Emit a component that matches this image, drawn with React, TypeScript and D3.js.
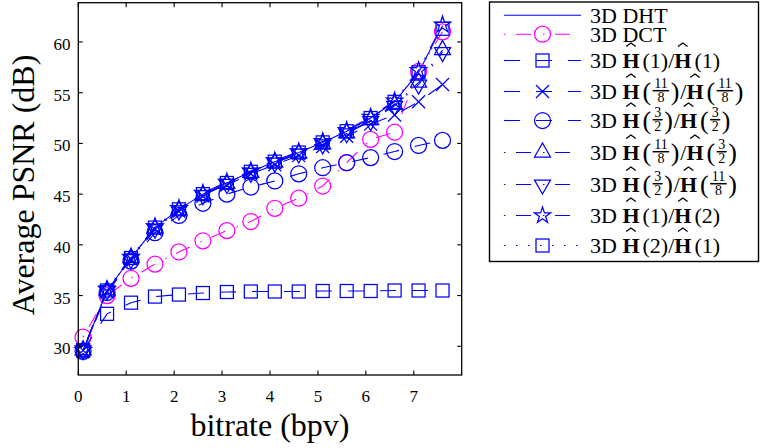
import React from "react";
import * as d3 from "d3";

// ---------- data ----------
const bitrate = [0.1, 0.6, 1.1, 1.6, 2.1, 2.6, 3.1, 3.6, 4.1, 4.6, 5.1, 5.6, 6.1, 6.6, 7.1, 7.6];
const psnrDHT = [29.6, 35.5, 38.7, 41.7, 43.5, 45.0, 46.1, 47.2, 48.2, 49.1, 50.1, 51.2, 52.5, 54.1, 57.0, 61.6];
const psnrDCT = [30.9, 35.0, 36.7, 38.1, 39.3, 40.4, 41.4, 42.3, 43.6, 44.6, 45.8, 48.1, 50.4, 51.1, 57.1, 61.0];
const psnrH1H1 = [29.6, 33.2, 34.3, 34.9, 35.1, 35.25, 35.35, 35.4, 35.4, 35.4, 35.45, 35.45, 35.45, 35.5, 35.5, 35.5];
const psnrH118H118 = [29.6, 35.4, 38.6, 41.5, 43.3, 44.8, 45.9, 47.0, 47.9, 48.8, 49.7, 50.7, 51.9, 52.8, 54.1, 55.8];
const psnrH32H32 = [29.5, 35.3, 38.4, 41.2, 42.9, 44.1, 45.0, 45.7, 46.3, 47.0, 47.6, 48.1, 48.6, 49.2, 49.8, 50.3];
const psnrH118H32 = [29.6, 35.5, 38.7, 41.6, 43.4, 44.9, 46.0, 47.1, 48.1, 49.0, 49.9, 51.0, 52.3, 53.8, 56.0, 59.2];
const psnrH32H118 = [29.6, 35.5, 38.6, 41.6, 43.4, 44.9, 46.0, 47.1, 48.1, 49.0, 49.9, 51.0, 52.2, 53.7, 55.8, 59.0];
const psnrH1H2 = [29.6, 35.6, 38.8, 41.8, 43.6, 45.1, 46.2, 47.3, 48.3, 49.2, 50.2, 51.3, 52.6, 54.2, 57.2, 61.7];
const psnrH2H1 = [29.6, 35.5, 38.7, 41.7, 43.5, 45.0, 46.1, 47.2, 48.2, 49.1, 50.1, 51.2, 52.5, 54.1, 57.0, 61.3];

const xTickValues = [0, 1, 2, 3, 4, 5, 6, 7];
const yTickValues = [30, 35, 40, 45, 50, 55, 60];
const xLabel = "bitrate (bpv)";
const yLabel = "Average PSNR (dB)";

// legend label tokens: t = text, H = bold hat H, f = fraction, p = big paren, s = space
type Tok = { k: string; s?: string; n?: string; d?: string; w?: number };
const T = (s: string): Tok => ({ k: "t", s });
const HH: Tok = { k: "H" };
const S: Tok = { k: "s", w: 3 };
const F = (n: string, d: string): Tok => ({ k: "f", n, d });
const P = (s: string): Tok => ({ k: "p", s });
const fracArg = (n: string, d: string): Tok[] => [S, P("("), F(n, d), P(")")];
const intArg = (v: string): Tok[] => [S, T("(" + v + ")")];

const legendLabels: Tok[][] = [
  [T("3D DHT")],
  [T("3D DCT")],
  [T("3D "), HH, ...intArg("1"), T("/"), HH, ...intArg("1")],
  [T("3D "), HH, ...fracArg("11", "8"), T("/"), HH, ...fracArg("11", "8")],
  [T("3D "), HH, ...fracArg("3", "2"), T("/"), HH, ...fracArg("3", "2")],
  [T("3D "), HH, ...fracArg("11", "8"), T("/"), HH, ...fracArg("3", "2")],
  [T("3D "), HH, ...fracArg("3", "2"), T("/"), HH, ...fracArg("11", "8")],
  [T("3D "), HH, ...intArg("1"), T("/"), HH, ...intArg("2")],
  [T("3D "), HH, ...intArg("2"), T("/"), HH, ...intArg("1")],
];

const BLUE = "#0000ff";
const MAGENTA = "#ff00ff";
const DASH = "16,16";
const DASHDOT = "1.5,10.5,15,12";
const DOT = "1.5,10.5";

const series = [
  { values: psnrDHT, color: BLUE, dash: "", marker: "none" },
  { values: psnrDCT, color: MAGENTA, dash: DASHDOT, marker: "circle" },
  { values: psnrH1H1, color: BLUE, dash: DASH, marker: "square" },
  { values: psnrH118H118, color: BLUE, dash: DASH, marker: "x" },
  { values: psnrH32H32, color: BLUE, dash: DASH, marker: "circle" },
  { values: psnrH118H32, color: BLUE, dash: DASHDOT, marker: "tri-up" },
  { values: psnrH32H118, color: BLUE, dash: DASHDOT, marker: "tri-down" },
  { values: psnrH1H2, color: BLUE, dash: DASHDOT, marker: "star" },
  { values: psnrH2H1, color: BLUE, dash: DOT, marker: "square" },
];

// ---------- layout ----------
const W = 761;
const Hh = 448;
const FONT = '"Liberation Serif", "Times New Roman", serif';
const xScale = d3.scaleLinear().domain([0, 8]).range([78.3, 461.7]);
const yScale = d3.scaleLinear().domain([27.17, 63.87]).range([375, 2.7]);

let _ctx: CanvasRenderingContext2D | null = null;
function measure(text: string, size: number, bold = false): number {
  if (!_ctx) _ctx = document.createElement("canvas").getContext("2d");
  if (!_ctx) return text.length * size * 0.5;
  _ctx.font = `${bold ? "bold " : ""}${size}px "Liberation Serif"`;
  return _ctx.measureText(text).width;
}

function starPath(R: number): string {
  const r = R * 0.382;
  const pts: string[] = [];
  for (let i = 0; i < 10; i++) {
    const a = -Math.PI / 2 + (i * Math.PI) / 5;
    const rr = i % 2 === 0 ? R : r;
    pts.push(`${(rr * Math.cos(a)).toFixed(2)},${(rr * Math.sin(a)).toFixed(2)}`);
  }
  return "M" + pts.join("L") + "Z";
}

function Marker({ type, cx, cy, color }: { type: string; cx: number; cy: number; color: string }) {
  const sw = 1.25;
  const common = { fill: "none", stroke: color, strokeWidth: sw };
  const tr = `translate(${cx},${cy})`;
  switch (type) {
    case "circle":
      return <circle cx={cx} cy={cy} r={8} {...common} />;
    case "square":
      return <rect x={cx - 6.5} y={cy - 6.5} width={13} height={13} {...common} />;
    case "x":
      return <path transform={tr} d="M-6.5,-6.5L6.5,6.5M-6.5,6.5L6.5,-6.5" {...common} />;
    case "tri-up":
      return <path transform={tr} d="M0,-9.5L8,4.5L-8,4.5Z" {...common} />;
    case "tri-down":
      return <path transform={tr} d="M0,9.5L8,-4.5L-8,-4.5Z" {...common} />;
    case "star":
      return <path transform={tr} d={starPath(8.6)} {...common} />;
    default:
      return null;
  }
}

function LegendLabel({ x0, base, tokens }: { x0: number; base: number; tokens: Tok[] }) {
  const fs = 22;
  let cx = x0;
  const els: React.ReactNode[] = [];
  tokens.forEach((tk, i) => {
    if (tk.k === "t") {
      els.push(
        <text key={i} x={cx} y={base} fontSize={fs} style={{ whiteSpace: "pre" }}>
          {tk.s}
        </text>
      );
      cx += measure(tk.s!, fs);
    } else if (tk.k === "s") {
      cx += tk.w!;
    } else if (tk.k === "H") {
      const w = measure("H", fs, true);
      els.push(
        <text key={i} x={cx} y={base} fontSize={fs} fontWeight="bold">
          H
        </text>
      );
      els.push(
        <path
          key={i + "h"}
          d={`M${cx + w * 0.22},${base - 21.5}L${cx + w / 2},${base - 25}L${cx + w * 0.78},${base - 21.5}`}
          fill="none"
          stroke="#000"
          strokeWidth={1.3}
        />
      );
      cx += w;
    } else if (tk.k === "p") {
      els.push(
        <text key={i} x={cx} y={base + 0.5} fontSize={26}>
          {tk.s}
        </text>
      );
      cx += measure(tk.s!, 26) + 1;
    } else if (tk.k === "f") {
      const ffs = 14;
      const w = Math.max(measure(tk.n!, ffs), measure(tk.d!, ffs)) + 3;
      const mid = cx + 0.5 + w / 2;
      els.push(
        <line key={i + "b"} x1={cx + 0.5} x2={cx + 0.5 + w} y1={base - 8.3} y2={base - 8.3} stroke="#000" strokeWidth={1.5} />
      );
      els.push(
        <text key={i + "n"} x={mid} y={base - 10.8} fontSize={ffs} textAnchor="middle">
          {tk.n}
        </text>
      );
      els.push(
        <text key={i + "d"} x={mid} y={base + 3.2} fontSize={ffs} textAnchor="middle">
          {tk.d}
        </text>
      );
      cx += w + 2;
    }
  });
  return <g>{els}</g>;
}

const legendBaselines = [22.7, 41.7, 68, 99, 128, 160, 192, 223, 253];

export default function App() {
  const line = d3
    .line<[number, number]>()
    .x((d) => xScale(d[0]))
    .y((d) => yScale(d[1]));

  const [x0, x1] = xScale.range();
  const [yb, yt] = yScale.range();
  const tickLen = 4.5;

  return (
    <svg
      width={W}
      height={Hh}
      viewBox={`0 0 ${W} ${Hh}`}
      style={{ position: "absolute", left: 0, top: 0, background: "#fff" }}
      fontFamily={FONT}
    >
      <rect x={0} y={0} width={W} height={Hh} fill="#fff" />
      {/* series */}
      {series.map((s, si) => {
        const pts = bitrate.map((b, i) => [b, s.values[i]] as [number, number]);
        return (
          <g key={si}>
            <path d={line(pts) || ""} fill="none" stroke={s.color} strokeWidth={1.1} strokeDasharray={s.dash || undefined} />
            {pts.map((p, i) => (
              <Marker key={i} type={s.marker} cx={xScale(p[0])} cy={yScale(p[1])} color={s.color} />
            ))}
          </g>
        );
      })}

      {/* axes box */}
      <rect x={x0} y={yt} width={x1 - x0} height={yb - yt} fill="none" stroke="#000" strokeWidth={1.3} />
      {xTickValues.map((t) => (
        <g key={"xt" + t}>
          <line x1={xScale(t)} x2={xScale(t)} y1={yb} y2={yb - tickLen} stroke="#000" strokeWidth={1.1} />
          <line x1={xScale(t)} x2={xScale(t)} y1={yt} y2={yt + tickLen} stroke="#000" strokeWidth={1.1} />
          <text x={xScale(t)} y={401.5} fontSize={17} textAnchor="middle">
            {t}
          </text>
        </g>
      ))}
      {yTickValues.map((t) => (
        <g key={"yt" + t}>
          <line x1={x0} x2={x0 + tickLen} y1={yScale(t)} y2={yScale(t)} stroke="#000" strokeWidth={1.1} />
          <line x1={x1} x2={x1 - tickLen} y1={yScale(t)} y2={yScale(t)} stroke="#000" strokeWidth={1.1} />
          <text x={70.5} y={yScale(t) + 8} fontSize={17} textAnchor="end">
            {t}
          </text>
        </g>
      ))}
      <text x={270} y={436} fontSize={32} textAnchor="middle">
        {xLabel}
      </text>
      <text transform="translate(33.5,185) rotate(-90)" fontSize={32} textAnchor="middle">
        {yLabel}
      </text>

      {/* legend */}
      <rect x={489.5} y={2} width={269} height={259.5} fill="#fff" stroke="#000" strokeWidth={1.4} />
      {series.map((s, i) => {
        const base = legendBaselines[i];
        const ly = base - 7.5;
        return (
          <g key={"lg" + i}>
            <line x1={504} x2={581} y1={ly} y2={ly} stroke={s.color} strokeWidth={1.1} strokeDasharray={s.dash || undefined} />
            <Marker type={s.marker} cx={542.5} cy={ly} color={s.color} />
            <LegendLabel x0={590} base={base} tokens={legendLabels[i]} />
          </g>
        );
      })}
    </svg>
  );
}
